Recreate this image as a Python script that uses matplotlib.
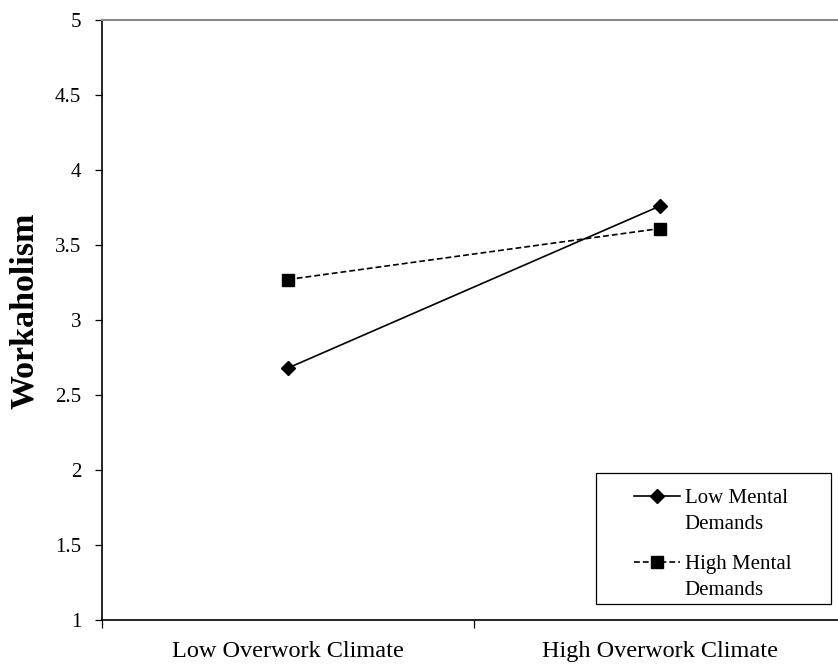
import numpy as np
import matplotlib.pyplot as plt
from matplotlib.patches import Rectangle

# data
climate = ['Low Overwork Climate', 'High Overwork Climate']
low_mental = [2.68, 3.76]
high_mental = [3.27, 3.61]
series_labels = ['Low Mental\nDemands', 'High Mental\nDemands']
y_ticks = [1, 1.5, 2, 2.5, 3, 3.5, 4, 4.5, 5]
y_ticklabels = ['1', '1.5', '2', '2.5', '3', '3.5', '4', '4.5', '5']

plt.rcParams['font.family'] = ['Liberation Serif', 'DejaVu Serif']

W, H = 838, 664
fig = plt.figure(figsize=(W / 100, H / 100), dpi=100)
ax = fig.add_axes([102 / W, (H - 620) / H, 744 / W, 600 / H])

x = np.arange(len(climate)) + 0.5

ax.plot(x, low_mental, color='black', lw=1.2, marker='D', ms=7.5,
        label=series_labels[0], zorder=3)
ax.plot(x, high_mental, color='black', lw=1.2, ls=(0, (3.5, 1.8)), marker='s',
        ms=8.5, label=series_labels[1], zorder=3)

ax.set_xlim(0, 2)
ax.set_ylim(1, 5)

ax.set_yticks(y_ticks)
ax.set_yticklabels(y_ticklabels)
ax.tick_params(axis='y', direction='out', length=5, width=0.9, pad=10,
               labelsize=15, colors='black')

ax.set_xticks([0, 1, 2])
ax.set_xticklabels([])
ax.tick_params(axis='x', which='major', direction='out', length=6, width=0.9)
ax.set_xticks(x, minor=True)
ax.set_xticklabels(climate, minor=True)
ax.tick_params(axis='x', which='minor', length=0, pad=15, labelsize=17.5)

ax.spines['right'].set_visible(False)
ax.spines['top'].set_color('#888888')
ax.spines['top'].set_linewidth(1.5)
ax.spines['left'].set_linewidth(1.2)
ax.spines['bottom'].set_linewidth(1.2)

fig.text(25 / W, 1 - 311 / H, 'Workaholism', rotation=90, fontsize=24.5,
         fontweight='bold', ha='center', va='center')

# legend box drawn separately so it can be wider than its contents
fig.patches.append(Rectangle((596 / W, 1 - 604 / H), 235 / W, 131 / H,
                             transform=fig.transFigure, fill=False,
                             edgecolor='black', lw=0.9))

leg = ax.legend(loc='upper left', bbox_to_anchor=(634 / W, 1 - 489 / H),
                bbox_transform=fig.transFigure, fontsize=15, frameon=False,
                handlelength=2.2, labelspacing=1.0, borderpad=0,
                handletextpad=0.24, borderaxespad=0)
for t in leg.get_texts():
    t.set_linespacing(1.5)
# put each marker level with the first line of its label
for col in leg._legend_handle_box.get_children():
    for row in col.get_children():
        row.align = 'top'

fig.savefig('out.png', dpi=100)
